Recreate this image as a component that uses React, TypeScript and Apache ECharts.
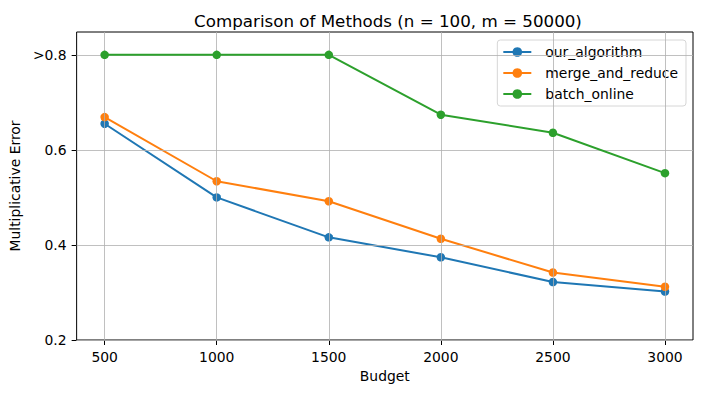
import React, { useEffect, useRef } from "react";
import * as echarts from "echarts";

const budgets = [500, 1000, 1500, 2000, 2500, 3000];
const ourAlgorithm = [0.655, 0.5, 0.416, 0.374, 0.322, 0.302];
const mergeAndReduce = [0.669, 0.534, 0.492, 0.413, 0.342, 0.312];
const batchOnline = [0.8, 0.8, 0.8, 0.674, 0.636, 0.551];
const yTicks = [0.2, 0.4, 0.6, 0.8];
const seriesNames = ["our_algorithm", "merge_and_reduce", "batch_online"];
const colors = ["#1f77b4", "#ff7f0e", "#2ca02c"];

const FONT = "DejaVu Sans";
const FS = 13.9;

export default function App() {
  const ref = useRef<HTMLDivElement>(null);
  useEffect(() => {
    if (!ref.current) return;
    const chart = echarts.init(ref.current, undefined, { renderer: "svg" });
    const all = [ourAlgorithm, mergeAndReduce, batchOnline];
    chart.setOption({
      animation: false,
      backgroundColor: "#fff",
      textStyle: { fontFamily: FONT },
      title: {
        text: "Comparison of Methods (n = 100, m = 50000)",
        left: 383,
        top: 7,
        textAlign: "center",
        textStyle: { fontFamily: FONT, fontSize: 16.7, fontWeight: "normal", color: "#000" },
      },
      legend: {
        orient: "vertical",
        right: 16,
        top: 40,
        itemWidth: 28,
        itemHeight: 12,
        itemGap: 7,
        padding: [5, 8, 5, 5],
        borderColor: "#d6d6d6",
        borderWidth: 1,
        borderRadius: 3,
        backgroundColor: "rgba(255,255,255,0.8)",
        textStyle: { fontFamily: FONT, fontSize: FS, color: "#000", padding: [0, 0, 0, 9] },
        data: seriesNames,
      },
      grid: {
        left: 73,
        right: 9,
        top: 32,
        bottom: 53,
        show: true,
        borderColor: "#000",
        borderWidth: 1,
        backgroundColor: "transparent",
        containLabel: false,
      },
      xAxis: {
        type: "value",
        min: 375,
        max: 3125,
        name: "Budget",
        nameLocation: "middle",
        nameGap: 29,
        nameTextStyle: { fontFamily: FONT, fontSize: FS, color: "#000" },
        axisLine: { show: false },
        axisTick: { show: true, length: 5, lineStyle: { color: "#000" }, customValues: budgets },
        axisLabel: {
          fontFamily: FONT,
          fontSize: FS,
          color: "#000",
          margin: 10,
          customValues: budgets,
          formatter: (v: number) => String(v),
        },
        splitLine: { show: false },
      },
      yAxis: {
        type: "value",
        min: 0.2,
        max: 0.848,
        name: "Multiplicative Error",
        nameLocation: "middle",
        nameGap: 51,
        nameTextStyle: { fontFamily: FONT, fontSize: FS, color: "#000" },
        axisLine: { show: false },
        axisTick: { show: true, length: 5, lineStyle: { color: "#000" }, customValues: yTicks },
        axisLabel: {
          fontFamily: FONT,
          fontSize: FS,
          color: "#000",
          margin: 10,
          customValues: yTicks,
          formatter: (v: number) => (v >= 0.79 ? ">0.8" : v.toFixed(1)),
        },
        splitLine: { show: false },
      },
      series: [
        ...all.map((vals, i) => ({
          name: seriesNames[i],
          type: "line",
          data: budgets.map((b, j) => [b, vals[j]]),
          color: colors[i],
          symbol: "circle",
          symbolSize: 8.5,
          lineStyle: { width: 2, color: colors[i] },
          itemStyle: { color: colors[i] },
          z: 3 + i,
        })),
        {
          name: "grid",
          type: "line",
          data: [],
          silent: true,
          markLine: {
            silent: true,
            symbol: "none",
            label: { show: false },
            lineStyle: { color: "#b0b0b0", width: 0.8, type: "solid" },
            data: [
              ...budgets.map((b) => ({ xAxis: b })),
              ...yTicks.map((t) => ({ yAxis: t })),
            ],
          },
          z: 1,
        },
      ],
    });
    return () => chart.dispose();
  }, []);
  return <div ref={ref} style={{ width: 702, height: 393, position: "absolute", left: 0, top: 0 }} />;
}
